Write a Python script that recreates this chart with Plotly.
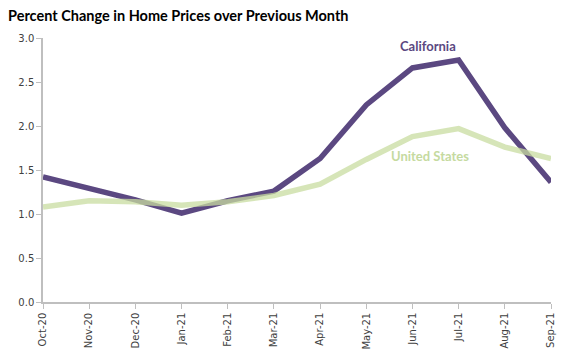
import plotly.graph_objects as go

months = ["Oct-20", "Nov-20", "Dec-20", "Jan-21", "Feb-21", "Mar-21",
          "Apr-21", "May-21", "Jun-21", "Jul-21", "Aug-21", "Sep-21"]
california = [1.42, 1.29, 1.16, 1.01, 1.15, 1.26, 1.63, 2.24, 2.66, 2.75, 1.98, 1.36]
united_states = [1.08, 1.15, 1.14, 1.10, 1.14, 1.21, 1.34, 1.62, 1.88, 1.97, 1.76, 1.63]
y_ticks = [0.0, 0.5, 1.0, 1.5, 2.0, 2.5, 3.0]

purple = "#5b4881"
green = "rgba(200,220,160,0.75)"

fig = go.Figure()
fig.add_trace(go.Scatter(x=months, y=california, mode="lines",
                         line=dict(color=purple, width=5.5), name="California"))
fig.add_trace(go.Scatter(x=months, y=united_states, mode="lines",
                         line=dict(color=green, width=5.5), name="United States"))

fig.add_annotation(x="Jul-21", y=2.75, text="<b>California</b>", showarrow=False,
                   xshift=-31, yshift=14, font=dict(family="Lato", size=13, color=purple))
fig.add_annotation(x="Jul-21", y=1.62, text="<b>United States</b>", showarrow=False,
                   xshift=-29, yshift=3, font=dict(family="Lato", size=13, color="#c5da9f"))

# page body has an 8px margin, so the figure is drawn 8px smaller and offset
fig.update_layout(
    width=558, height=352,
    margin=dict(l=28, r=10, t=30, b=57),
    paper_bgcolor="white", plot_bgcolor="white",
    showlegend=False,
    title=dict(text="<b>Percent Change in Home Prices over Previous Month</b>",
               x=0.0, xanchor="left", y=1.0, yanchor="top",
               pad=dict(t=3, l=0),
               font=dict(family="Lato", size=14.5, color="#000000")),
    font=dict(family="DejaVu Sans", size=10, color="#404040"),
)
fig.update_xaxes(type="category", categoryorder="array", categoryarray=months,
                 range=[0, len(months) - 1], tickangle=-90,
                 showgrid=False, showline=True, linecolor="#bfbfbf", linewidth=1.5,
                 ticks="outside", ticklen=5, tickcolor="#bfbfbf",
                 tickfont=dict(family="DejaVu Sans", size=10, color="#404040"))
fig.update_yaxes(range=[0, 3.0], tickvals=y_ticks, tickformat=".1f",
                 showgrid=False, showline=True, linecolor="#bfbfbf", linewidth=1.5,
                 ticks="outside", ticklen=5, tickcolor="#bfbfbf", zeroline=False,
                 tickfont=dict(family="DejaVu Sans", size=10, color="#404040"))

fig.write_html("out.html")
